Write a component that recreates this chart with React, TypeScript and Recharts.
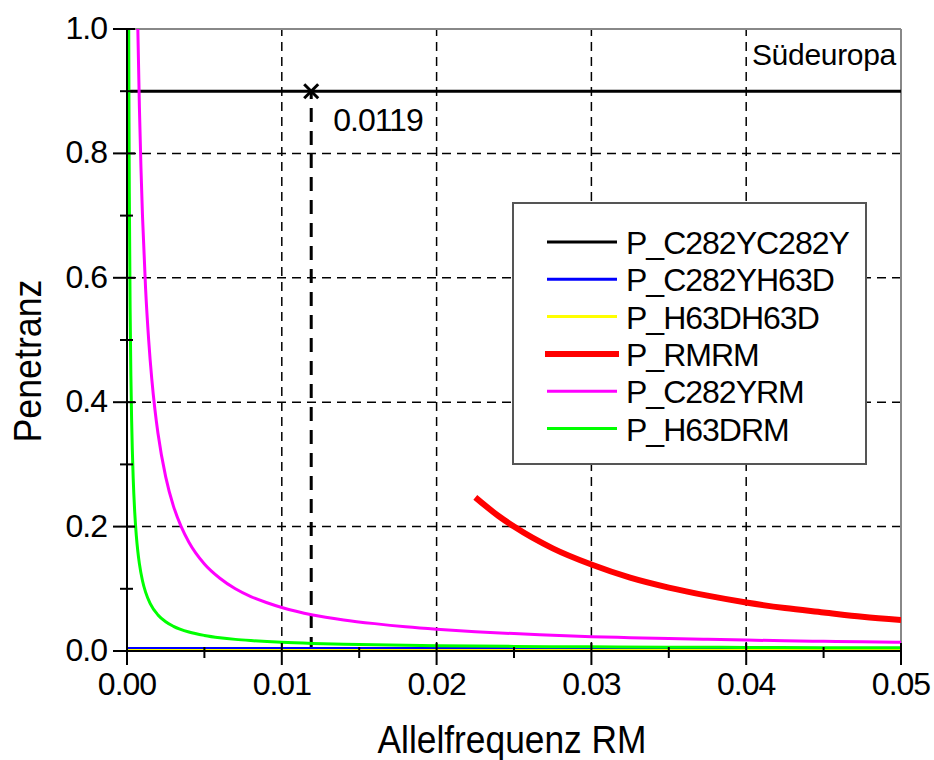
import React from 'react';
import {
  LineChart, Line, XAxis, YAxis, ReferenceLine, ReferenceDot, Legend,
} from 'recharts';

const FONT = "'Liberation Sans', Arial, Helvetica, sans-serif";

// Axis ticks and grid
const xTicks = [0, 0.005, 0.01, 0.015, 0.02, 0.025, 0.03, 0.035, 0.04, 0.045, 0.05];
const yTicks = [0, 0.1, 0.2, 0.3, 0.4, 0.5, 0.6, 0.7, 0.8, 0.9, 1.0];
const xGrid = [0.01, 0.02, 0.03, 0.04];
const yGrid = [0.2, 0.4, 0.6, 0.8];

// Series (Allelfrequenz RM -> Penetranz)
const flatX = [0, 0.05];
const pC282YC282Y = [0.9, 0.9];
const pC282YH63D = [0.004, 0.004];
const pH63DH63D = [0.0008, 0.0008];

const rmrmX = [0.0225, 0.024, 0.025, 0.0275, 0.03, 0.0325, 0.035, 0.0375, 0.04, 0.0425, 0.045, 0.0475, 0.05];
const pRMRM = [0.247, 0.217, 0.2, 0.165, 0.139, 0.118, 0.102, 0.089, 0.078, 0.069, 0.062, 0.055, 0.05];

const c282yrmX = [0.0005, 0.0006, 0.0007, 0.0008, 0.0009, 0.001, 0.0012, 0.0014, 0.0016, 0.0018, 0.002, 0.0025, 0.003, 0.0035, 0.004, 0.005, 0.006, 0.007, 0.008, 0.009, 0.01, 0.012, 0.014, 0.016, 0.018, 0.02, 0.0225, 0.025, 0.0275, 0.03, 0.0325, 0.035, 0.0375, 0.04, 0.0425, 0.045, 0.0475, 0.05];
const pC282YRM = [1.4, 1.167, 1.0, 0.875, 0.778, 0.7, 0.583, 0.5, 0.4375, 0.389, 0.35, 0.28, 0.233, 0.2, 0.175, 0.14, 0.117, 0.1, 0.0875, 0.078, 0.07, 0.058, 0.05, 0.044, 0.039, 0.035, 0.031, 0.028, 0.0255, 0.023, 0.0215, 0.02, 0.0187, 0.0175, 0.0165, 0.0156, 0.0147, 0.014];

const h63drmX = [0.0001, 0.00011, 0.00013, 0.00015, 0.0002, 0.00025, 0.0003, 0.0004, 0.0005, 0.0006, 0.0007, 0.0008, 0.001, 0.0012, 0.0015, 0.002, 0.0025, 0.003, 0.004, 0.005, 0.006, 0.007, 0.008, 0.01, 0.012, 0.014, 0.016, 0.018, 0.02, 0.0225, 0.025, 0.0275, 0.03, 0.035, 0.04, 0.045, 0.05];
const pH63DRM = [1.103, 1.003, 0.849, 0.736, 0.553, 0.443, 0.37, 0.278, 0.223, 0.186, 0.16, 0.1405, 0.113, 0.0947, 0.0763, 0.058, 0.047, 0.0397, 0.0305, 0.025, 0.0213, 0.0187, 0.0168, 0.014, 0.0122, 0.0109, 0.0099, 0.0091, 0.0085, 0.0079, 0.0074, 0.007, 0.0067, 0.0061, 0.0058, 0.0054, 0.0052];

const seriesNames = ['P_C282YC282Y', 'P_C282YH63D', 'P_H63DH63D', 'P_RMRM', 'P_C282YRM', 'P_H63DRM'];
const seriesColors = ['#000000', '#0000ff', '#ffff00', '#ff0000', '#ff00ff', '#00ff00'];
const seriesWidths = [3, 3, 3, 6, 3, 3];

const markerX = 0.0119;
const markerY = 0.9;
const markerLabel = '0.0119';
const regionLabel = 'Südeuropa';

const zip = (xs: number[], ys: number[]) => xs.map((x, i) => ({ x, y: ys[i] }));

const seriesData = [
  zip(flatX, pC282YC282Y),
  zip(flatX, pC282YH63D),
  zip(flatX, pH63DH63D),
  zip(rmrmX, pRMRM),
  zip(c282yrmX, pC282YRM),
  zip(h63drmX, pH63DRM),
];

const XTick = (props: any) => {
  const { x, y, payload } = props;
  const v = payload.value as number;
  const major = Math.round(v * 1000) % 10 === 0;
  return (
    <g>
      <line x1={x} x2={x} y1={y - (major ? 8 : 4)} y2={y + (major ? 14 : 7)} stroke="#000" strokeWidth={2} />
      {major && (
        <text x={x} y={y + 44} textAnchor="middle" fontSize={32} letterSpacing={-1} fontFamily={FONT} fill="#000">
          {v.toFixed(2)}
        </text>
      )}
    </g>
  );
};

const YTick = (props: any) => {
  const { x, y, payload } = props;
  const v = payload.value as number;
  const major = Math.round(v * 10) % 2 === 0;
  return (
    <g>
      <line x1={x - (major ? 14 : 7)} x2={x + (major ? 8 : 6)} y1={y} y2={y} stroke="#000" strokeWidth={2} />
      {major && (
        <text x={x - 20} y={y + 10} textAnchor="end" fontSize={32} letterSpacing={-1} fontFamily={FONT} fill="#000">
          {v.toFixed(1)}
        </text>
      )}
    </g>
  );
};

const LegendBox = () => (
  <svg width={356} height={264} style={{ display: 'block' }}>
    <rect x={1} y={1} width={353} height={261} fill="#fff" stroke="#555" strokeWidth={2} />
    {seriesNames.map((n, i) => {
      const cy = 40 + i * 37.3;
      return (
        <g key={n}>
          <line x1={seriesWidths[i] > 3 ? 33 : 35} x2={seriesWidths[i] > 3 ? 107 : 105} y1={cy} y2={cy}
            stroke={seriesColors[i]} strokeWidth={seriesWidths[i]} />
          <text x={114} y={cy + 12} fontSize={32} letterSpacing={-1} fontFamily={FONT} fill="#000">{n}</text>
        </g>
      );
    })}
  </svg>
);

const CrossMarker = (props: any) => {
  const { cx, cy } = props;
  return (
    <g>
      <line x1={cx - 7} y1={cy - 7} x2={cx + 7} y2={cy + 7} stroke="#000" strokeWidth={3} />
      <line x1={cx - 7} y1={cy + 7} x2={cx + 7} y2={cy - 7} stroke="#000" strokeWidth={3} />
      <text x={cx + 22} y={cy + 40} fontSize={32} letterSpacing={-1} fontFamily={FONT} fill="#000">{markerLabel}</text>
    </g>
  );
};

const RegionText = (props: any) => {
  const { cx, cy } = props;
  return (
    <text x={cx - 5} y={cy + 36} textAnchor="end" fontSize={30} letterSpacing={-0.3} fontFamily={FONT} fill="#000">{regionLabel}</text>
  );
};

export default function App() {
  return (
    <div style={{ position: 'absolute', left: 0, top: 0, width: 934, height: 760, background: '#fff' }}>
      <LineChart width={934} height={760} margin={{ top: 29, right: 33, bottom: 0, left: 0 }}>
        <XAxis
          dataKey="x"
          type="number"
          domain={[0, 0.05]}
          allowDataOverflow
          ticks={xTicks}
          interval={0}
          height={109}
          tickSize={0}
          tickMargin={0}
          tickLine={false}
          axisLine={{ stroke: '#000', strokeWidth: 2 }}
          tick={<XTick />}
          label={() => (
            <text x={512} y={753} textAnchor="middle" fontSize={39} fontFamily={FONT} fill="#000"
              textLength={269} lengthAdjust="spacingAndGlyphs">Allelfrequenz RM</text>
          )}
        />
        <YAxis
          dataKey="y"
          type="number"
          domain={[0, 1]}
          allowDataOverflow
          ticks={yTicks}
          interval={0}
          width={127}
          tickSize={0}
          tickMargin={0}
          tickLine={false}
          axisLine={{ stroke: '#000', strokeWidth: 2 }}
          tick={<YTick />}
          label={() => (
            <text transform="translate(41,361) rotate(-90)" textAnchor="middle" fontSize={39} fontFamily={FONT}
              fill="#000" textLength={163} lengthAdjust="spacingAndGlyphs">Penetranz</text>
          )}
        />
        {xGrid.map((g) => (
          <ReferenceLine key={'gx' + g} x={g} stroke="#000" strokeWidth={1.5} strokeDasharray="9 6" />
        ))}
        {yGrid.map((g) => (
          <ReferenceLine key={'gy' + g} y={g} stroke="#000" strokeWidth={1.5} strokeDasharray="9 6" />
        ))}
        <ReferenceLine y={1} stroke="#888" strokeWidth={2} />
        <ReferenceLine x={0.05} stroke="#888" strokeWidth={2} />
        <ReferenceLine
          segment={[{ x: markerX, y: 0 }, { x: markerX, y: markerY }]}
          stroke="#000"
          strokeWidth={3}
          strokeDasharray="14 9"
        />
        {seriesNames.map((n, i) => (
          <Line
            key={n}
            name={n}
            data={seriesData[i]}
            dataKey="y"
            type="monotone"
            stroke={seriesColors[i]}
            strokeWidth={seriesWidths[i]}
            dot={false}
            activeDot={false}
            isAnimationActive={false}
          />
        ))}
        <ReferenceDot x={markerX} y={markerY} r={8} shape={<CrossMarker />} />
        <ReferenceDot x={0.05} y={1} r={1} shape={<RegionText />} />
        <Legend
          layout="vertical"
          align="center"
          verticalAlign="middle"
          content={() => <LegendBox />}
          wrapperStyle={{ position: 'absolute', left: 512, top: 202, width: 356, height: 264 }}
        />
      </LineChart>
    </div>
  );
}
